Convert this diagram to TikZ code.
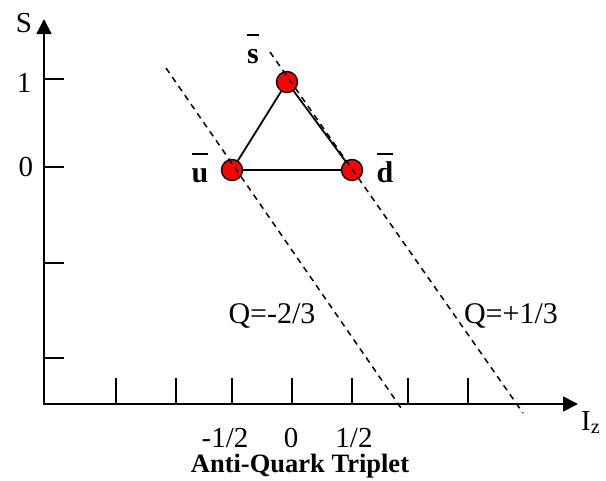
\documentclass[tikz,border=0pt]{standalone}
\usepackage{fontspec}
\setmainfont{Liberation Serif}
\usetikzlibrary{arrows.meta}

\newcommand{\antiq}[1]{\setbox0\hbox{#1}\rlap{\rule[27pt]{\wd0}{2pt}}\box0}

\tikzset{
  axis/.style={line width=1.8pt},
  quark/.style={circle, draw, fill=red, line width=1.4pt, minimum size=21pt, inner sep=0pt},
  qname/.style={font=\fontsize{30}{30}\selectfont\bfseries, anchor=base, inner sep=0pt},
  lbl/.style={font=\fontsize{29}{29}\selectfont, anchor=base, inner sep=0pt},
  charge/.style={dash pattern=on 6pt off 5pt, line width=1.5pt},
}

\begin{document}
\begin{tikzpicture}[x=1pt, y=-1pt, >={Triangle[length=15pt, width=15pt]}]
    \useasboundingbox (0,0) rectangle (606,480);

    % axes
    \coordinate (origin) at (44,404);
    \coordinate (ytip) at (44,19);
    \coordinate (xtip) at (578,404);
    \draw[axis, <->] (ytip) -- (origin) -- (xtip);
    \foreach \y in {79,167,263,358}
        \draw[axis] (44,\y) -- (64,\y);
    \foreach \x in {116,176,232,292,352,408,468}
        \draw[axis] (\x,378) -- (\x,404);

    \node[lbl] (slab) at (24,32) {S};
    \node[lbl] (sone) at (24,92) {1};
    \node[lbl] (szero) at (26,176) {0};
    \node[lbl, anchor=base west] (izlab) at (581,430) {I\textsubscript{z}};
    \node[lbl] (ihalfm) at (225,447) {-1/2};
    \node[lbl] (izero) at (291,447) {0};
    \node[lbl] (ihalfp) at (354,447) {1/2};
    \node[font=\fontsize{26.5}{26.5}\selectfont\bfseries, anchor=base, inner sep=0pt] (title) at (300,472) {Anti-Quark Triplet};

    % triplet
    \node[quark] (sbar) at (287,82) {};
    \node[quark] (ubar) at (232,170) {};
    \node[quark] (dbar) at (352,170) {};
    \draw[line width=1.8pt] (sbar) -- (ubar) -- (dbar) -- (sbar);

    \node[qname] (slab2) at (253,63) {\antiq{s}};
    \node[qname] (ulab) at (200,182) {\antiq{u}};
    \node[qname] (dlab) at (385,182) {\antiq{d}};

    % charge lines
    \coordinate (qma) at (166,68);
    \coordinate (qmb) at (401,408);
    \coordinate (qpa) at (270,52);
    \coordinate (qpb) at (523,413);
    \draw[charge] (qma) -- (qmb);
    \draw[charge] (qpa) -- (qpb);
    \node[lbl, font=\fontsize{30}{30}\selectfont] (qminus) at (272,323) {Q=-2/3};
    \node[lbl, font=\fontsize{30}{30}\selectfont] (qplus) at (511,323) {Q=+1/3};
\end{tikzpicture}
\end{document}
